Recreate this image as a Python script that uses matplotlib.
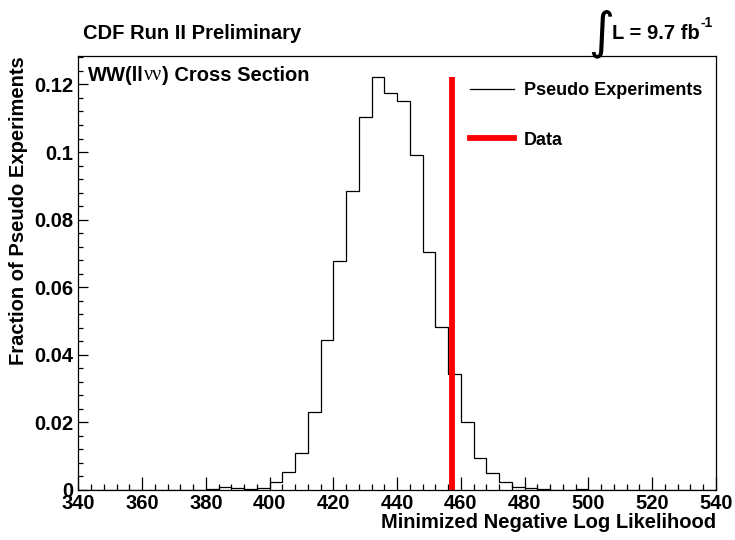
import matplotlib
matplotlib.use("Agg")

import matplotlib.pyplot as plt
from matplotlib.lines import Line2D
from matplotlib.ticker import MultipleLocator, FixedFormatter, FixedLocator
import numpy as np

plt.rcParams["font.family"] = ["Liberation Sans", "DejaVu Sans"]
plt.rcParams["font.weight"] = "bold"

# Pseudo-experiment histogram: 4-unit bins from 340 to 540
bin_edges = np.arange(340, 544, 4)
fractions = [
    0, 0, 0, 0, 0, 0, 0, 0, 0, 0,                      # 340-380
    0.0002, 0.0008, 0.0006, 0.0003, 0.0007,            # 380-400
    0.0025, 0.0052, 0.0109, 0.0230, 0.0444,            # 400-420
    0.0677, 0.0884, 0.1103, 0.1223, 0.1174,            # 420-440
    0.1151, 0.0991, 0.0703, 0.0481, 0.0343,            # 440-460
    0.0200, 0.0094, 0.0050, 0.0023, 0.0010,            # 460-480
    0.0007, 0.0002, 0, 0, 0.0002,                      # 480-500
    0, 0, 0, 0, 0, 0, 0, 0, 0, 0,                      # 500-540
]
data_value = 457.3

x_ticks = [340, 360, 380, 400, 420, 440, 460, 480, 500, 520, 540]
y_ticks = [0, 0.02, 0.04, 0.06, 0.08, 0.1, 0.12]
y_tick_labels = ["0", "0.02", "0.04", "0.06", "0.08", "0.1", "0.12"]

fig = plt.figure(figsize=(7.35, 5.4), dpi=100)
ax = fig.add_axes([0.1068, 0.0926, 0.8672, 0.8037])

ax.stairs(fractions, bin_edges, color="black", linewidth=0.9)
ax.vlines(data_value, 0, max(fractions), color="#ff0000", linewidth=4.2)

ax.set_xlim(340, 540)
ax.set_ylim(0, 1.05 * max(fractions))

ax.xaxis.set_major_locator(FixedLocator(x_ticks))
ax.xaxis.set_minor_locator(MultipleLocator(4))
ax.yaxis.set_major_locator(FixedLocator(y_ticks))
ax.yaxis.set_major_formatter(FixedFormatter(y_tick_labels))
ax.yaxis.set_minor_locator(MultipleLocator(0.004))
ax.tick_params(axis="both", which="both", direction="in", top=False, right=False,
               labelsize=14.5, width=0.9)
ax.tick_params(axis="x", which="major", length=9.5, pad=3)
ax.tick_params(axis="x", which="minor", length=4.5)
ax.tick_params(axis="y", which="major", length=7.5, pad=4)
ax.tick_params(axis="y", which="minor", length=3.8)
for lab in ax.get_xticklabels() + ax.get_yticklabels():
    lab.set_fontweight("bold")
for sp in ax.spines.values():
    sp.set_linewidth(0.9)

ax.set_xlabel("Minimized Negative Log Likelihood", fontsize=14.5, fontweight="bold",
              loc="right", labelpad=0)
ax.set_ylabel("Fraction of Pseudo Experiments", fontsize=14.5, fontweight="bold",
              loc="top", labelpad=4)

# in-frame title with the neutrinos set in a serif face
t1 = ax.text(0.015, 0.955, "WW(ll", transform=ax.transAxes, fontsize=14.5,
             fontweight="bold", ha="left", va="center")
t2 = ax.annotate("\u03bd\u03bd", xy=(1, 0), xycoords=t1, fontsize=14.5,
                 family="Liberation Serif", fontweight="normal", va="bottom")
ax.annotate(") Cross Section", xy=(1, 0), xycoords=t2, fontsize=14.5,
            fontweight="bold", va="bottom")

handles = [Line2D([], [], color="black", linewidth=0.9),
           Line2D([], [], color="#ff0000", linewidth=4.2)]
ax.legend(handles, ["Pseudo Experiments", "Data"], loc="upper left",
          bbox_to_anchor=(0.615, 0.94), frameon=False,
          prop={"weight": "bold", "size": 13}, handlelength=2.4,
          handletextpad=0.55, labelspacing=1.8, borderpad=0, borderaxespad=0)

fig.text(0.113, 0.938, "CDF Run II Preliminary", fontsize=14.5, fontweight="bold",
         ha="left", va="center")
fig.text(0.800, 0.937, "\u222b", fontsize=36, family="DejaVu Sans",
         fontweight="normal", ha="left", va="center")
fig.text(0.833, 0.938, "L = 9.7 fb", fontsize=14.5, fontweight="bold",
         ha="left", va="center")
fig.text(0.953, 0.958, "-1", fontsize=10, fontweight="bold", ha="left", va="center")

fig.savefig("out.png", dpi=100)
